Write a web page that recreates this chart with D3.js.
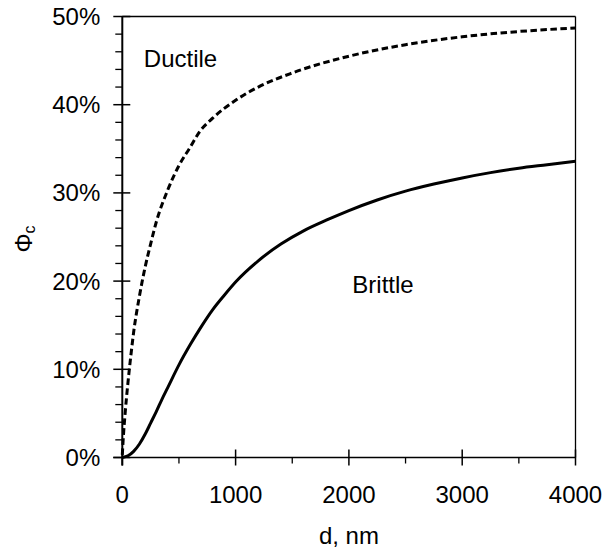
<!DOCTYPE html>
<html><head><meta charset="utf-8">
<script src="https://cdn.jsdelivr.net/npm/d3@7"></script>
<style>body{margin:0;background:#fff}svg{display:block}text{font-family:"Liberation Sans",Arial,sans-serif;fill:#000}</style>
</head><body><svg id="c" width="605" height="552"></svg>
<script>
const brittleD = [0,50,100,150,200,250,300,350,400,500,600,700,800,900,1000,1200,1400,1600,1800,2000,2250,2500,2750,3000,3250,3500,3750,4000];
const brittleV = [0,0.002,0.007,0.015,0.026,0.039,0.052,0.066,0.079,0.105,0.128,0.149,0.168,0.184,0.199,0.223,0.242,0.257,0.269,0.280,0.292,0.302,0.310,0.317,0.323,0.328,0.332,0.336];
const ductileD = [0,10,25,50,75,100,150,200,250,300,400,500,600,680,800,1000,1200,1500,2000,2500,3000,3500,4000];
const ductileV = [0.003,0.025,0.05,0.085,0.115,0.142,0.182,0.215,0.242,0.267,0.303,0.331,0.352,0.369,0.385,0.405,0.420,0.436,0.455,0.468,0.477,0.483,0.487];
const xTicks = [0,1000,2000,3000,4000];
const xMinor = [500,1500,2500,3500];
const yTicks = [0,0.1,0.2,0.3,0.4,0.5];
const yMinor = [0.02,0.04,0.06,0.08,0.12,0.14,0.16,0.18,0.22,0.24,0.26,0.28,0.32,0.34,0.36,0.38,0.42,0.44,0.46,0.48];
const xTitle = "d, nm";
const regionLabels = [{t:"Ductile", d:190, v:0.443},{t:"Brittle", d:2030, v:0.187}];

const svg = d3.select("#c");
const x = d3.scaleLinear().domain([0,4000]).range([122.3,575.5]);
const y = d3.scaleLinear().domain([0,0.5]).range([457.5,16.5]);

// frame top/right
svg.append("line").attr("x1",x(0)).attr("x2",x(4000)).attr("y1",y(0.5)).attr("y2",y(0.5)).attr("stroke","#000").attr("stroke-width",1.3);
svg.append("line").attr("x1",x(4000)).attr("x2",x(4000)).attr("y1",y(0.5)).attr("y2",y(0)).attr("stroke","#000").attr("stroke-width",1.3);

// y axis
const gy = svg.append("g").attr("transform",`translate(${x(0)},0)`);
gy.append("line").attr("y1",y(0.5)).attr("y2",y(0)+8).attr("stroke","#000").attr("stroke-width",2);
gy.selectAll("line.maj").data(yTicks).join("line").attr("class","maj")
  .attr("x1",-9).attr("x2",8).attr("y1",d=>y(d)).attr("y2",d=>y(d)).attr("stroke","#000").attr("stroke-width",1.5);
gy.selectAll("line.min").data(yMinor).join("line").attr("class","min")
  .attr("x1",-7).attr("x2",0).attr("y1",d=>y(d)).attr("y2",d=>y(d)).attr("stroke","#000").attr("stroke-width",1.3);
gy.selectAll("text").data(yTicks).join("text")
  .attr("x",-22).attr("y",d=>y(d)+8.5).attr("text-anchor","end").attr("font-size",24)
  .text(d=>d3.format(".0%")(d));

// x axis
const gx = svg.append("g").attr("transform",`translate(0,${y(0)})`);
gx.append("line").attr("x1",x(0)-9).attr("x2",x(4000)).attr("stroke","#000").attr("stroke-width",1.7);
gx.selectAll("line.maj").data(xTicks).join("line").attr("class","maj")
  .attr("x1",d=>x(d)).attr("x2",d=>x(d)).attr("y1",-8).attr("y2",8).attr("stroke","#000").attr("stroke-width",1.5);
gx.selectAll("line.min").data(xMinor).join("line").attr("class","min")
  .attr("x1",d=>x(d)).attr("x2",d=>x(d)).attr("y1",0).attr("y2",6).attr("stroke","#000").attr("stroke-width",1.3);
gx.selectAll("text").data(xTicks).join("text")
  .attr("x",d=>x(d)).attr("y",45.5).attr("text-anchor","middle").attr("font-size",24).text(d=>d);

svg.append("text").attr("x",(x(0)+x(4000))/2).attr("y",544).attr("text-anchor","middle").attr("font-size",24).text(xTitle);

const yl = svg.append("text").attr("transform","translate(32,239) rotate(-90)").attr("text-anchor","middle").attr("font-size",24);
yl.append("tspan").text("Φ");
yl.append("tspan").attr("font-size",16).attr("dy",3).text("c");

// curves
const line = d3.line().x(d=>x(d[0])).y(d=>y(d[1])).curve(d3.curveMonotoneX);
svg.append("path").datum(brittleD.map((d,i)=>[d,brittleV[i]])).attr("d",line)
  .attr("fill","none").attr("stroke","#000").attr("stroke-width",3);
svg.append("path").datum(ductileD.map((d,i)=>[d,ductileV[i]])).attr("d",line)
  .attr("fill","none").attr("stroke","#000").attr("stroke-width",3).attr("stroke-dasharray","6.5,3.5");

svg.selectAll("text.rl").data(regionLabels).join("text").attr("class","rl")
  .attr("x",d=>x(d.d)).attr("y",d=>y(d.v)).attr("font-size",24).text(d=>d.t);
</script></body></html>
